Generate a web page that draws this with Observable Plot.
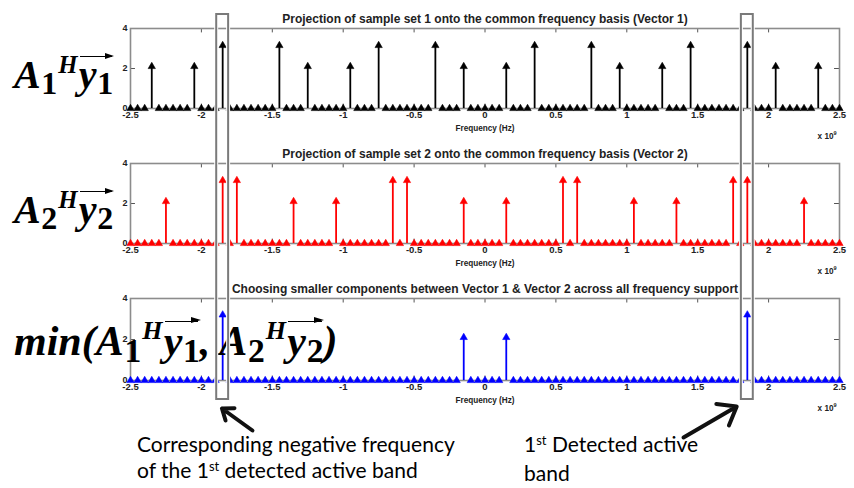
<!DOCTYPE html>
<html><head><meta charset="utf-8">
<script src="https://cdn.jsdelivr.net/npm/d3@7"></script>
<script src="https://cdn.jsdelivr.net/npm/@observablehq/plot@0.6"></script>
<style>
html,body{margin:0;padding:0;background:#fff;}
#wrap{position:relative;width:854px;height:488px;overflow:hidden;background:#fff;}
.panel{position:absolute;left:0;}
.overlay{position:absolute;left:0;top:0;pointer-events:none;}
.math{position:absolute;font-family:"Liberation Serif","DejaVu Serif",serif;font-weight:bold;font-style:italic;color:#000;white-space:nowrap;line-height:1;}
.math .d{font-style:normal;}
.math .sub{font-size:0.8em;position:relative;top:0.2em;margin-left:0.02em;}
.math .sup{font-size:0.62em;position:relative;top:-0.6em;margin-left:0.04em;}
.math .vec{position:relative;display:inline-block;margin-left:0.03em;}
.math .vec::before{content:"";position:absolute;left:0.02em;right:0.04em;top:0.02em;border-top:0.045em solid #000;}
.math .vec::after{content:"";position:absolute;right:-0.02em;top:-0.06em;border-left:0.24em solid #000;border-top:0.09em solid transparent;border-bottom:0.09em solid transparent;}
.note{position:absolute;font-family:Lato,"Open Sans",sans-serif;font-size:21px;line-height:26px;color:#000;white-space:nowrap;}
.note sup{font-size:0.62em;vertical-align:0;position:relative;top:-0.55em;}
</style>
</head><body>
<div id="wrap"></div>
<script>
// ---------- data ----------
const freqBins = [-2.5,-2.45,-2.4,-2.35,-2.3,-2.25,-2.2,-2.15,-2.1,-2.05,-2,-1.95,-1.9,-1.85,-1.8,-1.75,-1.7,-1.65,-1.6,-1.55,-1.5,-1.45,-1.4,-1.35,-1.3,-1.25,-1.2,-1.15,-1.1,-1.05,-1,-0.95,-0.9,-0.85,-0.8,-0.75,-0.7,-0.65,-0.6,-0.55,-0.5,-0.45,-0.4,-0.35,-0.3,-0.25,-0.2,-0.15,-0.1,-0.05,0,0.05,0.1,0.15,0.2,0.25,0.3,0.35,0.4,0.45,0.5,0.55,0.6,0.65,0.7,0.75,0.8,0.85,0.9,0.95,1,1.05,1.1,1.15,1.2,1.25,1.3,1.35,1.4,1.45,1.5,1.55,1.6,1.65,1.7,1.75,1.8,1.85,1.9,1.95,2,2.05,2.1,2.15,2.2,2.25,2.3,2.35,2.4,2.45,2.5];

const vec1Freq  = [-2.35,-2.05,-1.85,-1.45,-1.25,-0.95,-0.75,-0.35,-0.15,0.15,0.35,0.75,0.95,1.25,1.45,1.85,2.05,2.35];
const vec1Value = [2.1,2.1,3.15,3.15,2.1,2.1,3.15,3.15,2.1,2.1,3.15,3.15,2.1,2.1,3.15,3.15,2.1,2.1];

const vec2Freq  = [-2.25,-1.85,-1.75,-1.35,-1.05,-0.65,-0.55,-0.15,0.15,0.55,0.65,1.05,1.35,1.75,1.85,2.25];
const vec2Value = [2.1,3.15,3.15,2.1,2.1,3.15,3.15,2.1,2.1,3.15,3.15,2.1,2.1,3.15,3.15,2.1];

const minFreq  = [-1.85,-0.15,0.15,1.85];
const minValue = [3.2,2.1,2.1,3.2];

const xTicks = [-2.5,-2,-1.5,-1,-0.5,0,0.5,1,1.5,2,2.5];
const xTickLabels = ["-2.5","-2","-1.5","-1","-0.5","0","0.5","1","1.5","2","2.5"];
const yTicks = [0,2,4];
const yTickLabels = ["0","2","4"];

const titles = [
  "Projection of sample set 1 onto the common frequency basis (Vector 1)",
  "Projection of sample set 2 onto the common frequency basis (Vector 2)",
  "Choosing smaller components between Vector 1 & Vector 2 across all frequency support"
];
const xLabel = "Frequency (Hz)";
const detectedBand = [-1.85, 1.85];   // highlighted bands

// ---------- drawing ----------
const W = 854, ML = 130, MR = 15;
const wrap = document.getElementById("wrap");
const F = "'Liberation Sans', Arial, sans-serif";

function panel(title, sx, sy, color, top, mb) {
  const key = v => Math.round(v * 100);
  const stemMap = new Map(sx.map((x, i) => [key(x), sy[i]]));
  const bins = freqBins.map(f => ({f, v: stemMap.has(key(f)) ? stemMap.get(key(f)) : 0}));
  const stems = sx.map((x, i) => ({x, y: sy[i]}));
  const svg = Plot.plot({
    width: W, height: 135, marginLeft: ML, marginRight: MR, marginTop: 28, marginBottom: mb,
    style: {background: "transparent", fontFamily: F, overflow: "visible"},
    x: {domain: [-2.5, 2.5]},
    y: {domain: [0, 4]},
    marks: [
      Plot.ruleX(xTicks, {y1: 4, y2: 3.78, stroke: "#555", strokeWidth: 1}),
      Plot.ruleX(xTicks, {y1: 0, y2: 0.22, stroke: "#555", strokeWidth: 1}),
      Plot.ruleY(yTicks, {x1: -2.5, x2: -2.465, stroke: "#555", strokeWidth: 1}),
      Plot.ruleY(yTicks, {x1: 2.465, x2: 2.5, stroke: "#555", strokeWidth: 1}),
      Plot.frame({stroke: "#8c8c8c", strokeWidth: 1.6}),
      Plot.axisX(xTicks, {tickSize: 0, tickPadding: 3, fontSize: 9.5, fontWeight: "bold", fill: "#222",
        tickFormat: d => xTickLabels[xTicks.indexOf(d)]}),
      Plot.axisY(yTicks, {tickSize: 0, tickPadding: 3, fontSize: 9, fontWeight: "bold", fill: "#222",
        tickFormat: d => yTickLabels[yTicks.indexOf(d)]}),
      Plot.ruleX(stems, {x: "x", y1: 0, y2: "y", stroke: color, strokeWidth: 1.8}),
      Plot.dot(bins, {x: "f", y: "v", symbol: "triangle", r: 2.7, fill: color, stroke: color, strokeWidth: 0.6}),
      Plot.text([title], {frameAnchor: "top", dy: -14, fontSize: 12, fontWeight: "bold", fill: "#222"}),
      Plot.text([xLabel], {frameAnchor: "bottom", dy: 22, fontSize: 8.2, fontWeight: "bold", fill: "#222"}),
      Plot.text(["x 10"], {frameAnchor: "bottom-right", dx: -6, dy: 30, fontSize: 8.2, fontWeight: "bold", fill: "#222", textAnchor: "end"}),
      Plot.text(["9"], {frameAnchor: "bottom-right", dx: -3, dy: 26, fontSize: 5.5, fontWeight: "bold", fill: "#222", textAnchor: "end"})
    ]
  });
  svg.classList.add("panel");
  svg.style.top = top + "px";
  wrap.appendChild(svg);
}

panel(titles[0], vec1Freq, vec1Value, "#000000", 0, 27);
panel(titles[1], vec2Freq, vec2Value, "#ff0000", 135, 27);
panel(titles[2], minFreq, minValue, "#0000ff", 270, 25);

// math labels
const labels = [
  {left: 14, top: 55, size: 40, html: 'A<span class="d sub">1</span><span class="sup">H</span><span class="vec">y<span class="d sub">1</span></span>'},
  {left: 14, top: 190, size: 40, html: 'A<span class="d sub">2</span><span class="sup">H</span><span class="vec">y<span class="d sub">2</span></span>'},
  {left: 14, top: 320, size: 42, html: 'min(A<span class="d sub">1</span><span class="sup">H</span><span class="vec">y<span class="d sub">1</span></span>, A<span class="d sub">2</span><span class="sup">H</span><span class="vec">y<span class="d sub">2</span></span>)'}
];
for (const l of labels) {
  const d = document.createElement("div");
  d.className = "math";
  d.style.left = l.left + "px"; d.style.top = l.top + "px"; d.style.fontSize = l.size + "px";
  d.innerHTML = l.html;
  wrap.appendChild(d);
}

// overlay: highlight boxes and arrows
const boxes = detectedBand.map(c => ({c}));
const arrows = [
  {x1: -1.64, y1: 430, x2: -1.855, y2: 408},
  {x1: 1.40, y1: 437, x2: 1.775, y2: 406}
];
const ov = Plot.plot({
  width: W, height: 488, marginLeft: ML, marginRight: MR, marginTop: 0, marginBottom: 0,
  style: {background: "transparent", overflow: "visible"},
  x: {domain: [-2.5, 2.5], axis: null},
  y: {type: "identity", axis: null},
  marks: [
    Plot.rect(boxes, {x1: d => d.c - 0.042, x2: d => d.c + 0.042, y1: () => 14, y2: () => 399, fill: "none", stroke: "#fff", strokeWidth: 4}),
    Plot.rect(boxes, {x1: d => d.c - 0.042, x2: d => d.c + 0.042, y1: () => 14, y2: () => 399, fill: "none", stroke: "#7a7a7a", strokeWidth: 2}),
    Plot.arrow(arrows, {x1: "x1", y1: "y1", x2: "x2", y2: "y2", stroke: "#111", strokeWidth: 4, headLength: 14, headAngle: 75})
  ]
});
ov.classList.add("overlay");
wrap.appendChild(ov);

// notes
const notes = [
  {left: 137, top: 431, html: 'Corresponding negative frequency<br>of the 1<sup>st</sup> detected active band'},
  {left: 524, top: 431, html: '1<sup>st</sup> Detected active<br>band'}
];
for (const n of notes) {
  const d = document.createElement("div");
  d.className = "note";
  d.style.left = n.left + "px"; d.style.top = n.top + "px";
  d.innerHTML = n.html;
  wrap.appendChild(d);
}
</script>
</body></html>
